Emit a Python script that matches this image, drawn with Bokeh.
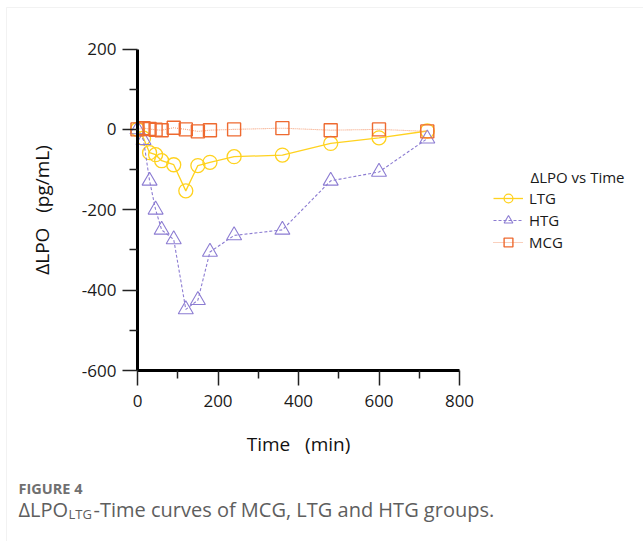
from bokeh.plotting import figure
from bokeh.models import (Range1d, LinearAxis, FixedTicker, Legend, LegendItem, Label,
                          BoxAnnotation, PrintfTickFormatter)
from bokeh.embed import file_html
from bokeh.resources import INLINE

# ---- data ----
time_min = [0, 15, 30, 45, 60, 90, 120, 150, 180, 240, 360, 480, 600, 720]
ltg = [0, -22, -58, -63, -78, -88, -153, -90, -82, -68, -64, -35, -21, -4]
htg = [0, -27, -128, -200, -250, -274, -448, -425, -305, -264, -250, -128, -106, -23]
mcg = [0, 3, 1, -1, -2, 4, 0, -5, -2, 0, 3, -2, 0, -5]

x_ticks = [0, 200, 400, 600, 800]
x_minor = [100, 300, 500, 700]
y_ticks = [-600, -400, -200, 0, 200]
y_minor = [-500, -300, -100, 100]

FONT = "Open Sans"

# ---- layout (page pixels) ----
W, H = 643, 541
OFF = 0                      # page offset of the canvas
AX_L, AX_R = 137, 459        # page x of data x = 0 and x = 800
AX_T, AX_B = 48.5, 370       # page y of data y = 200 and y = -600
sx = (AX_R - AX_L) / 800.0
sy = (AX_B - AX_T) / 800.0
x0 = 0 - (AX_L - OFF) / sx
x1 = x0 + W / sx
y1 = 200 + (AX_T - OFF) / sy
y0 = y1 - H / sy


def px(x):   # page x -> frame screen x
    return x - OFF


def py(y):   # page y -> frame screen y (from bottom)
    return OFF + H - y


p = figure(width=W, height=H, output_backend="svg", toolbar_location=None,
           x_range=Range1d(x0, x1), y_range=Range1d(y0, y1),
           x_axis_type=None, y_axis_type=None,
           min_border=0, min_border_left=0, min_border_right=0,
           min_border_top=0, min_border_bottom=0)
p.grid.visible = False
p.outline_line_color = None
p.background_fill_color = "white"
p.border_fill_color = "white"


def style_axis(ax):
    ax.axis_line_width = 3
    ax.axis_line_color = "black"
    ax.major_tick_line_width = 1.5
    ax.major_tick_line_color = "#222222"
    ax.minor_tick_line_width = 1.5
    ax.minor_tick_line_color = "#222222"
    ax.major_tick_in = 0
    ax.major_tick_out = 15
    ax.minor_tick_in = 0
    ax.minor_tick_out = 8
    ax.formatter = PrintfTickFormatter(format="%d")
    ax.major_label_text_font = FONT
    ax.major_label_text_font_size = "17px"
    ax.major_label_text_color = "#1a1a1a"
    ax.axis_label_text_font = FONT
    ax.axis_label_text_font_size = "19px"
    ax.axis_label_text_font_style = "normal"
    ax.axis_label_text_color = "#111111"


xaxis = LinearAxis(bounds=(0, 800), fixed_location=-600,
                   ticker=FixedTicker(ticks=x_ticks, minor_ticks=x_minor),
                   axis_label="Time\u00a0\u00a0\u00a0(min)")
style_axis(xaxis)
xaxis.major_label_standoff = 9
xaxis.axis_label_standoff = 21
p.add_layout(xaxis, "below")

yaxis = LinearAxis(bounds=(-600, 200), fixed_location=0,
                   ticker=FixedTicker(ticks=y_ticks, minor_ticks=y_minor),
                   axis_label="\u0394LPO\u00a0\u00a0\u00a0(pg/mL)")
style_axis(yaxis)
yaxis.major_label_standoff = 6
yaxis.axis_label_standoff = 24
p.add_layout(yaxis, "left")

YEL = "#FFD21F"
PUR = "#8C7CD2"
ORG = "#EE6A30"
ORG_L = "#F4A07A"

l1 = p.line(time_min, ltg, line_color=YEL, line_width=1.3)
s1 = p.scatter(time_min, ltg, marker="circle", size=14, fill_color=None,
               line_color=YEL, line_width=1.3)
l2 = p.line(time_min, htg, line_color=PUR, line_width=1.1, line_dash="3 2")
s2 = p.scatter(time_min, htg, marker="triangle", size=15, fill_color=None,
               line_color=PUR, line_width=1.1)
l3 = p.line(time_min, mcg, line_color=ORG_L, line_width=1.1, line_dash="1 1")
s3 = p.scatter(time_min, mcg, marker="square", size=13, fill_color=None,
               line_color=ORG, line_width=1.4)

legend = Legend(items=[LegendItem(label="LTG", renderers=[l1, s1]),
                       LegendItem(label="HTG", renderers=[l2, s2]),
                       LegendItem(label="MCG", renderers=[l3, s3])],
                location=(px(493), py(253)), orientation="vertical",
                glyph_width=30, glyph_height=22, label_height=22, spacing=0,
                padding=0, margin=0, label_standoff=6,
                label_text_font=FONT, label_text_font_size="15px",
                label_text_color="#1a1a1a",
                border_line_alpha=0, background_fill_alpha=0)
p.add_layout(legend, "center")

p.add_layout(Label(x=px(530), y=py(176), x_units="screen", y_units="screen",
                   text="\u0394LPO vs Time", text_font=FONT, text_font_size="15px",
                   text_color="#1a1a1a", text_baseline="middle"))

# panel frame lines (top and left)
p.add_layout(BoxAnnotation(left=px(6), right=px(800), top=py(7), bottom=py(800),
                           left_units="screen", right_units="screen",
                           top_units="screen", bottom_units="screen",
                           fill_alpha=0, line_color="#d4d4d4", line_width=1))

# caption
p.add_layout(Label(x=px(18), y=py(488), x_units="screen", y_units="screen",
                   text="FIGURE 4", text_font=FONT, text_font_size="14.5px",
                   text_font_style="bold", text_color="#707070", text_baseline="middle"))
p.add_layout(Label(x=px(18), y=py(509), x_units="screen", y_units="screen",
                   text="\u0394LPO", text_font=FONT, text_font_size="20px",
                   text_color="#5e5e5e", text_baseline="middle"))
p.add_layout(Label(x=px(68), y=py(513), x_units="screen", y_units="screen",
                   text="LTG", text_font=FONT, text_font_size="13px",
                   text_color="#5e5e5e", text_baseline="middle"))
p.add_layout(Label(x=px(93), y=py(509), x_units="screen", y_units="screen",
                   text="-Time curves of MCG, LTG and HTG groups.", text_font=FONT,
                   text_font_size="20px", text_color="#5e5e5e", text_baseline="middle"))

open("out.html", "w").write(file_html(p, INLINE))
